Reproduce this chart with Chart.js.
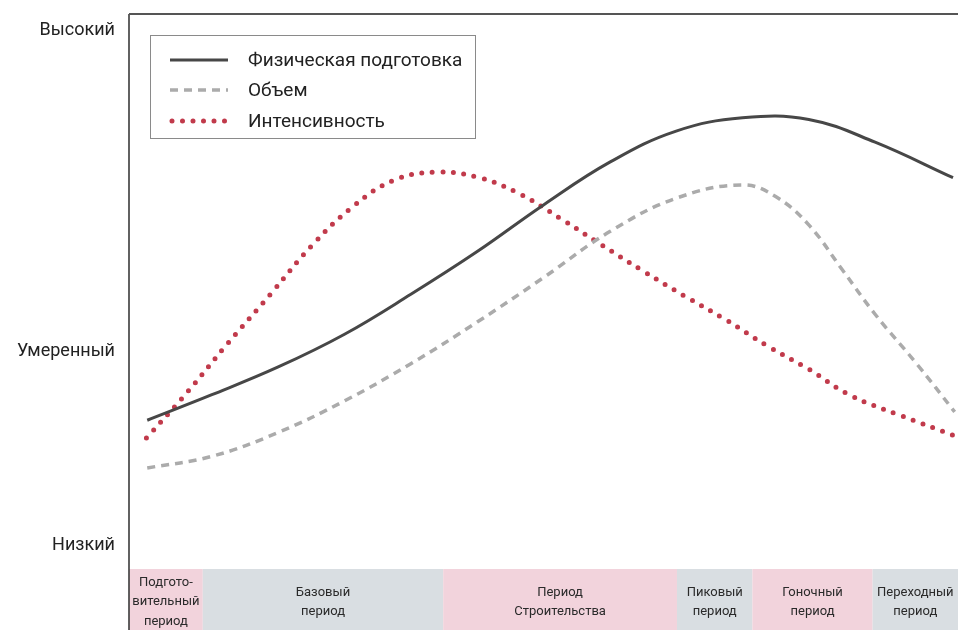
<!DOCTYPE html>
<html><head><meta charset="utf-8">
<script src="https://cdn.jsdelivr.net/npm/chart.js@4/dist/chart.umd.min.js"></script>
<style>html,body{margin:0;padding:0;background:#fff}#wrap{width:958px;height:630px}</style>
</head><body><div id="wrap"><canvas id="c" width="958" height="630"></canvas></div>
<script>
// ---- data ----
const seriesNames = ['Физическая подготовка', 'Объем', 'Интенсивность'];
const fitnessX = [2.2, 10, 18, 26, 34, 42, 50, 58, 66, 74, 82, 90, 99.4];
const fitnessY = [26.8, 31.4, 36.4, 42.3, 49.5, 57.2, 65.6, 73.3, 78.9, 81.3, 81.0, 76.9, 70.5];
const volumeX = [2.2, 10, 18, 26, 34, 42, 50, 58, 66, 74, 78, 82, 86, 90, 95, 99.6];
const volumeY = [18.2, 20.3, 24.6, 30.3, 37.0, 44.5, 52.5, 60.8, 66.8, 69.2, 67.1, 62.0, 54.0, 45.9, 37.0, 28.3];
const intensityX = [2.1, 7, 12, 17, 22, 27, 32, 37, 42, 47, 52, 57, 62, 67, 72, 77, 82, 87, 93, 99.4];
const intensityY = [23.6, 31.8, 40.8, 49.4, 58.2, 65.3, 70.1, 71.5, 70.6, 67.7, 63.2, 58.4, 53.7, 49.2, 44.9, 40.2, 36.0, 31.3, 27.7, 24.1];
const yTickValues = [4.3, 39.1, 97.1];
const yTickLabels = ['Низкий', 'Умеренный', 'Высокий'];
const periodBounds = [0, 8.9, 37.9, 66.1, 75.2, 89.7, 100];
const periodLabels = [['Подгото-', 'вительный', 'период'], ['Базовый', 'период'], ['Период', 'Строительства'], ['Пиковый', 'период'], ['Гоночный', 'период'], ['Переходный', 'период']];

const FONT = 'Roboto, "Liberation Sans", sans-serif';
const toPts = (xs, ys) => xs.map((x, i) => ({x, y: ys[i]}));

const framePlugin = {
  id: 'frame',
  beforeDatasetsDraw(chart) {
    const {ctx, chartArea: a, scales: {x}} = chart;
    const H = chart.height;
    ctx.save();
    const cols = ['#f2d3dc', '#d9dee2'];
    for (let i = 0; i < periodLabels.length; i++) {
      const x0 = x.getPixelForValue(periodBounds[i]);
      const x1 = x.getPixelForValue(periodBounds[i + 1]);
      ctx.fillStyle = cols[i % 2];
      ctx.fillRect(x0, a.bottom, x1 - x0, H - a.bottom);
      const lines = periodLabels[i];
      ctx.fillStyle = '#2a2a2a';
      ctx.font = '13px ' + FONT;
      ctx.textAlign = 'center';
      ctx.textBaseline = 'middle';
      const lh = 19.5, cy = 602;
      const start = cy - (lines.length - 1) * lh / 2;
      lines.forEach((t, j) => ctx.fillText(t, (x0 + x1) / 2, start + j * lh));
    }
    ctx.strokeStyle = '#3a3a3a';
    ctx.lineWidth = 1.6;
    ctx.beginPath();
    ctx.moveTo(a.left, a.top); ctx.lineTo(a.left, H);
    ctx.stroke();
    ctx.strokeStyle = '#555';
    ctx.lineWidth = 2;
    ctx.beginPath();
    ctx.moveTo(a.left, a.top); ctx.lineTo(a.right, a.top);
    ctx.stroke();
    ctx.restore();
  },
  afterDraw(chart) {
    const {ctx} = chart;
    ctx.save();
    const bx = 150, by = 35, bw = 325, bh = 103;
    ctx.fillStyle = '#ffffff';
    ctx.fillRect(bx, by, bw, bh);
    ctx.strokeStyle = '#8a8a8a';
    ctx.lineWidth = 1;
    ctx.strokeRect(bx + 0.5, by + 0.5, bw, bh);
    const rows = [60, 90, 121];
    chart.data.datasets.forEach((ds, i) => {
      ctx.save();
      ctx.strokeStyle = ds.borderColor;
      ctx.lineWidth = ds.borderWidth;
      ctx.lineCap = ds.borderCapStyle || 'butt';
      ctx.setLineDash(ds.borderDash || []);
      ctx.beginPath();
      ctx.moveTo(i === 2 ? 172 : 170, rows[i]);
      ctx.lineTo(228, rows[i]);
      ctx.stroke();
      ctx.restore();
      ctx.fillStyle = '#222';
      ctx.font = '19px ' + FONT;
      ctx.textAlign = 'left';
      ctx.textBaseline = 'middle';
      ctx.fillText(ds.label, 248, rows[i] + 1);
    });
    ctx.restore();
  }
};

new Chart(document.getElementById('c'), {
  type: 'line',
  data: {
    datasets: [
      {label: seriesNames[0], data: toPts(fitnessX, fitnessY), borderColor: '#474747', borderWidth: 3, tension: 0.4, pointRadius: 0, fill: false},
      {label: seriesNames[1], data: toPts(volumeX, volumeY), borderColor: '#ababab', borderWidth: 3.5, borderDash: [8, 6], tension: 0.4, pointRadius: 0, fill: false},
      {label: seriesNames[2], data: toPts(intensityX, intensityY), borderColor: '#c13a4b', borderWidth: 5, borderDash: [0, 10.5], borderCapStyle: 'round', tension: 0.4, pointRadius: 0, fill: false}
    ]
  },
  options: {
    responsive: false,
    animation: false,
    layout: {padding: {top: 14, right: 0, bottom: 0, left: 0}},
    plugins: {legend: {display: false}, tooltip: {enabled: false}},
    scales: {
      x: {
        type: 'linear', min: 0, max: 100,
        grid: {display: false}, border: {display: false},
        ticks: {display: false},
        afterFit(s) { s.height = 61; s.paddingLeft = 0; s.paddingRight = 0; }
      },
      y: {
        type: 'linear', min: 0, max: 100,
        grid: {display: false, drawTicks: false}, border: {display: false},
        afterBuildTicks(s) { s.ticks = yTickValues.map(v => ({value: v})); },
        ticks: {
          autoSkip: false,
          padding: 14,
          color: '#222',
          font: {family: FONT, size: 18},
          callback: (v) => yTickLabels[yTickValues.indexOf(v)]
        },
        afterFit(s) { s.width = 129; s.paddingTop = 0; s.paddingBottom = 0; }
      }
    }
  },
  plugins: [framePlugin]
});
</script>
</body></html>
